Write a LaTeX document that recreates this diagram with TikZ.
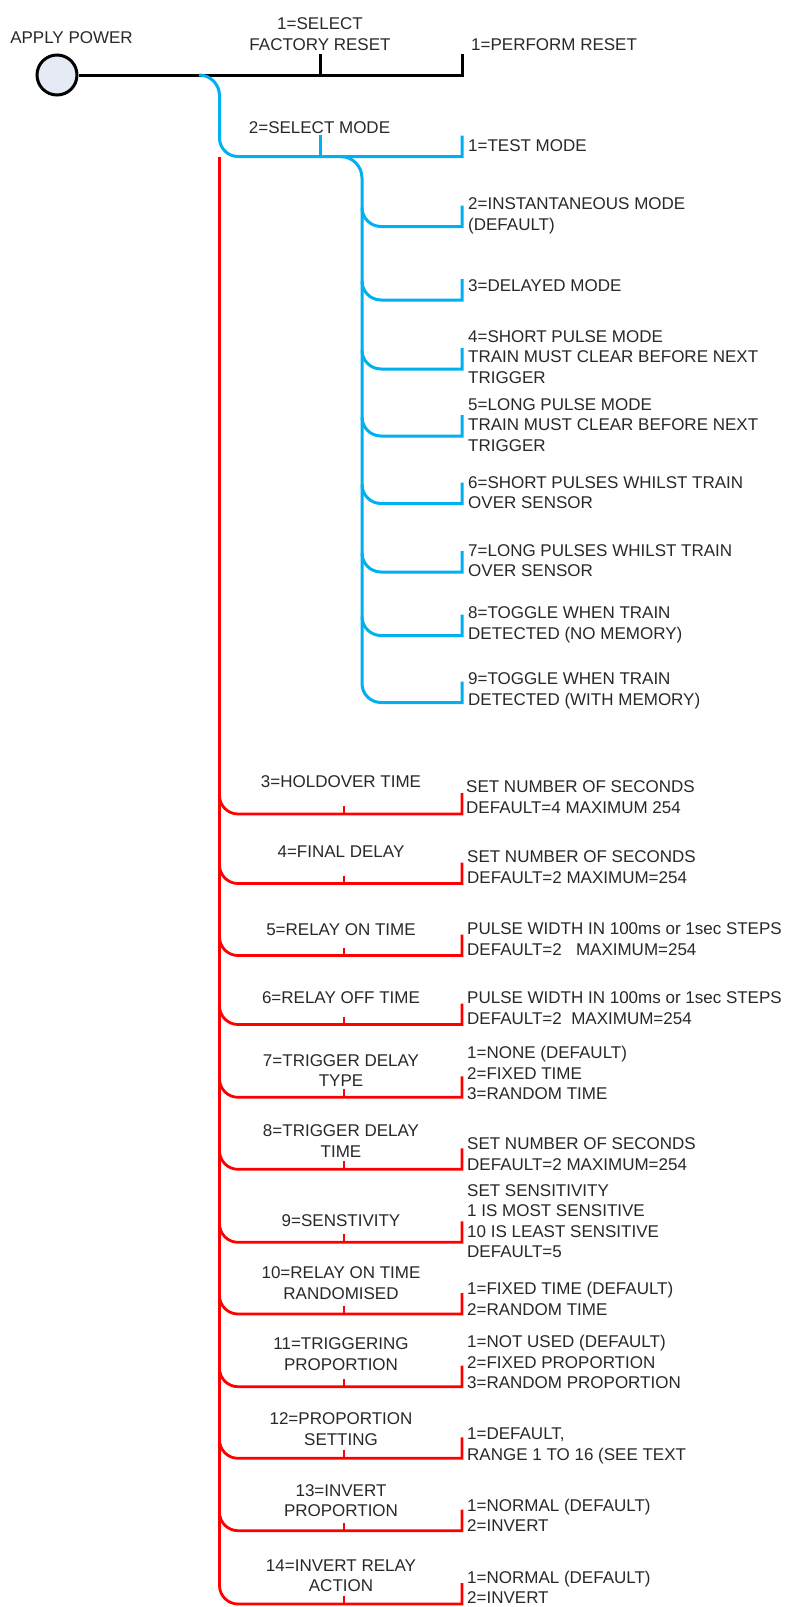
\documentclass[tikz,border=0pt]{standalone}
\usepackage{fontspec}
\setmainfont{Liberation Sans}
\definecolor{lineblue}{RGB}{0,176,240}
\definecolor{linered}{RGB}{255,0,0}
\definecolor{txtgray}{RGB}{40,40,40}
\definecolor{powerfill}{RGB}{230,234,245}
\newcommand{\lblfont}{\fontsize{17}{20.5}\selectfont}
\begin{document}
\begin{tikzpicture}[x=1pt,y=-1pt,
  txtstyle/.style={inner sep=0pt, font=\lblfont, text=txtgray},
  rtext/.style={txtstyle, anchor=north west, align=left},
  ctext/.style={txtstyle, anchor=north, align=center},
  blkline/.style={draw=black, line width=3pt},
  bluline/.style={draw=lineblue, line width=3pt},
  redline/.style={draw=linered, line width=2.8pt},
]
\useasboundingbox (0,0) rectangle (787,1607);

% ---------- power node and black branch ----------
\node[circle, draw=black, line width=3pt, fill=powerfill, minimum size=40pt, inner sep=0pt] (power) at (57,75) {};
\node[ctext] (applypower) at (71.5,28.7) {\strut APPLY POWER};
\coordinate (resetend) at (462,75);
\coordinate (resettick) at (320.5,75);
\draw[blkline] (power.east) -- (resetend) -- (462,54);
\draw[blkline] (resettick) -- (320.5,54);
\node[ctext] (factory) at (320,15.0) {\strut 1=SELECT\\FACTORY RESET};
\node[rtext] (perform) at (471,36.1) {\strut 1=PERFORM RESET};

% ---------- blue branch (select mode) ----------
\draw[bluline] (199,75) .. controls (210.3,75) and (219.5,84.2) .. (219.5,95.5)
  -- (219.5,138) .. controls (219.5,148.2) and (227.8,156.5) .. (238,156.5)
  -- (462,156.5) -- (462,135.5);
\draw[bluline] (320.5,156.5) -- (320.5,135);
\node[ctext] (selmode) at (319.5,119.4) {\strut 2=SELECT MODE};
\draw[bluline] (340.5,156.5) .. controls (352.4,156.5) and (362,166.1) .. (362,178)
  -- (362,683.5) .. controls (362,694) and (370.5,702.5) .. (381,702.5)
  -- (462,702.5) -- (462,681.5);
\foreach \yy in {226.5,300,369,436,503.5,572,635.5}{
  \draw[bluline] (362,\yy-19) .. controls (362,\yy-8.5) and (370.5,\yy) .. (381,\yy)
    -- (462,\yy) -- (462,\yy-21);
}
\node[rtext] (m1) at (468,136.7) {\strut 1=TEST MODE};
\node[rtext] (m2) at (468,195.0) {\strut 2=INSTANTANEOUS MODE\\(DEFAULT)};
\node[rtext] (m3) at (468,277.4) {\strut 3=DELAYED MODE};
\node[rtext] (m4) at (468,327.7) {\strut 4=SHORT PULSE MODE\\TRAIN MUST CLEAR BEFORE NEXT\\TRIGGER};
\node[rtext] (m5) at (468,395.7) {\strut 5=LONG PULSE MODE\\TRAIN MUST CLEAR BEFORE NEXT\\TRIGGER};
\node[rtext] (m6) at (468,473.7) {\strut 6=SHORT PULSES WHILST TRAIN\\OVER SENSOR};
\node[rtext] (m7) at (468,541.7) {\strut 7=LONG PULSES WHILST TRAIN\\OVER SENSOR};
\node[rtext] (m8) at (468,604.0) {\strut 8=TOGGLE WHEN TRAIN\\DETECTED (NO MEMORY)};
\node[rtext] (m9) at (468,670.0) {\strut 9=TOGGLE WHEN TRAIN\\DETECTED (WITH MEMORY)};

% ---------- red branch (settings) ----------
\draw[redline] (219.5,157) -- (219.5,1585.5) .. controls (219.5,1595.7) and (227.8,1604) .. (238,1604)
  -- (462,1604) -- (462,1583);
\draw[redline] (344,1604) -- (344,1596);
\foreach \yy in {814,883.5,955.5,1024.5,1097.3,1169.3,1242.3,1314,1386.7,1458.3,1530.7}{
  \draw[redline] (219.5,\yy-18.5) .. controls (219.5,\yy-8.3) and (227.8,\yy) .. (238,\yy)
    -- (462,\yy) -- (462,\yy-21);
  \draw[redline] (344,\yy) -- (344,\yy-8);
}
\node[ctext] (s3)  at (341,773.4)  {\strut 3=HOLDOVER TIME};
\node[ctext] (s4)  at (341,843.4)  {\strut 4=FINAL DELAY};
\node[ctext] (s5)  at (341,921.0)  {\strut 5=RELAY ON TIME};
\node[ctext] (s6)  at (341,989.0)  {\strut 6=RELAY OFF TIME};
\node[ctext] (s7)  at (341,1051.7) {\strut 7=TRIGGER DELAY\\TYPE};
\node[ctext] (s8)  at (341,1122.4) {\strut 8=TRIGGER DELAY\\TIME};
\node[ctext] (s9)  at (341,1211.7) {\strut 9=SENSTIVITY};
\node[ctext] (s10) at (341,1264.4) {\strut 10=RELAY ON TIME\\RANDOMISED};
\node[ctext] (s11) at (341,1335.0) {\strut 11=TRIGGERING\\PROPORTION};
\node[ctext] (s12) at (341,1410.0) {\strut 12=PROPORTION\\SETTING};
\node[ctext] (s13) at (341,1481.7) {\strut 13=INVERT\\PROPORTION};
\node[ctext] (s14) at (341,1556.7) {\strut 14=INVERT RELAY\\ACTION};

\node[rtext] (v3)  at (466,778.4)  {\strut SET NUMBER OF SECONDS\\DEFAULT=4 MAXIMUM 254};
\node[rtext] (v4)  at (467,848.4)  {\strut SET NUMBER OF SECONDS\\DEFAULT=2 MAXIMUM=254};
\node[rtext] (v5)  at (467,920.0)  {\strut PULSE WIDTH IN 100ms or 1sec STEPS\\DEFAULT=2\ \ \ MAXIMUM=254};
\node[rtext] (v6)  at (467,989.0)  {\strut PULSE WIDTH IN 100ms or 1sec STEPS\\DEFAULT=2\ \ MAXIMUM=254};
\node[rtext] (v7)  at (467,1044.4) {\strut 1=NONE (DEFAULT)\\2=FIXED TIME\\3=RANDOM TIME};
\node[rtext] (v8)  at (467,1135.0) {\strut SET NUMBER OF SECONDS\\DEFAULT=2 MAXIMUM=254};
\node[rtext] (v9)  at (467,1181.7) {\strut SET SENSITIVITY\\1 IS MOST SENSITIVE\\10 IS LEAST SENSITIVE\\DEFAULT=5};
\node[rtext] (v10) at (467,1280.0) {\strut 1=FIXED TIME (DEFAULT)\\2=RANDOM TIME};
\node[rtext] (v11) at (467,1333.4) {\strut 1=NOT USED (DEFAULT)\\2=FIXED PROPORTION\\3=RANDOM PROPORTION};
\node[rtext] (v12) at (467,1425.0) {\strut 1=DEFAULT,\\RANGE 1 TO 16 (SEE TEXT};
\node[rtext] (v13) at (467,1496.7) {\strut 1=NORMAL (DEFAULT)\\2=INVERT};
\node[rtext] (v14) at (467,1568.7) {\strut 1=NORMAL (DEFAULT)\\2=INVERT};
\end{tikzpicture}
\end{document}
